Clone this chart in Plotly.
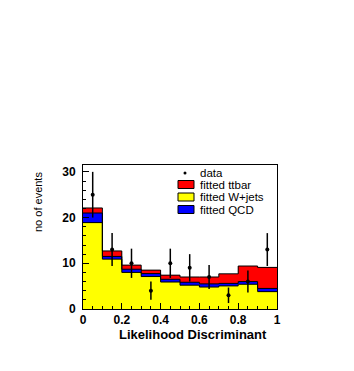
import plotly.graph_objects as go

# bin edges of the likelihood discriminant histogram
edges = [0.0, 0.1, 0.2, 0.3, 0.4, 0.5, 0.6, 0.7, 0.8, 0.9, 1.0]
centers = [0.05, 0.15, 0.25, 0.35, 0.45, 0.55, 0.65, 0.75, 0.85, 0.95]

# fitted components (stacked: W+jets bottom, QCD, ttbar on top)
wjets = [18.9, 10.9, 8.0, 7.1, 5.9, 5.2, 4.8, 5.05, 5.4, 3.8]
qcd = [2.1, 0.6, 0.7, 0.65, 0.6, 0.65, 0.7, 0.55, 0.6, 0.7]
ttbar = [1.1, 1.2, 0.9, 0.75, 0.9, 1.15, 1.5, 2.1, 3.4, 4.6]

# observed data and errors
data = [25, 13, 10, 4, 10, 9, 7, 3, 6, 13]
data_err = [5.0, 3.6, 3.2, 2.0, 3.2, 3.0, 2.6, 1.7, 2.4, 3.6]

# page body has an 8px margin, so the figure is drawn 8px smaller
W, H = 346, 363
L, R, T, B = 75, 77, 157, 62
X0, Y0, PW, PH = 83, 309, 194, 144   # plot box in window pixels


def px(x):
    return (x - X0) / PW


def py(y):
    return (Y0 - y) / PH


fig = go.Figure()

comps = [("fitted W+jets", wjets, "#ffff00"),
         ("fitted QCD", qcd, "#0000ff"),
         ("fitted ttbar", ttbar, "#ff0000")]
for name, vals, col in comps:
    fig.add_trace(go.Bar(x=centers, y=vals, width=0.1, name=name,
                         marker=dict(color=col, line=dict(width=0)),
                         showlegend=False))

# step outlines on top of each stacked level
level = [0.0] * len(centers)
for name, vals, col in comps:
    level = [a + b for a, b in zip(level, vals)]
    fig.add_trace(go.Scatter(x=edges, y=level + [level[-1]], mode="lines",
                             line=dict(color="black", width=1, shape="hv"),
                             showlegend=False, hoverinfo="skip"))

fig.add_trace(go.Scatter(x=centers, y=data, mode="markers", name="data",
                         marker=dict(color="black", size=4),
                         error_y=dict(type="data", array=data_err, color="black",
                                      thickness=1.5, width=0),
                         showlegend=False))

font = "Liberation Sans, Arial, sans-serif"

fig.update_layout(
    width=W, height=H, barmode="stack",
    margin=dict(l=L, r=R, t=T, b=B, pad=0),
    paper_bgcolor="white", plot_bgcolor="white",
    font=dict(family=font, color="black"),
    xaxis=dict(range=[0, 1], showline=True, mirror=True, linecolor="black",
               linewidth=1, ticks="inside", ticklen=6, dtick=0.2, tick0=0,
               tickcolor="black", showgrid=False, zeroline=False,
               tickfont=dict(size=12, weight="bold"), tickformat="~g",
               ticklabelstandoff=0,
               minor=dict(ticks="inside", ticklen=3, dtick=0.05, tickcolor="black")),
    yaxis=dict(range=[0, 31.5], showline=True, mirror=True, linecolor="black",
               linewidth=1, ticks="inside", ticklen=6, dtick=10, tick0=0,
               tickcolor="black", showgrid=False, zeroline=False,
               tickfont=dict(size=12, weight="bold"), ticklabelstandoff=4,
               minor=dict(ticks="inside", ticklen=3, dtick=2, tickcolor="black")),
)

# axis titles
fig.add_annotation(text="Likelihood Discriminant", xref="paper", yref="paper",
                   x=px(269), y=py(334), xanchor="right", yanchor="middle",
                   showarrow=False, font=dict(size=13, weight="bold"))
fig.add_annotation(text="no of events", xref="paper", yref="paper",
                   x=px(38), y=py(170), xanchor="center", yanchor="top",
                   textangle=-90, showarrow=False, font=dict(size=11))

# legend
fig.add_trace(go.Scatter(x=[px(185)], y=[py(173)], xaxis="x2", yaxis="y2",
                         mode="markers", marker=dict(color="black", size=3),
                         showlegend=False, hoverinfo="skip"))
fig.update_layout(
    xaxis2=dict(overlaying="x", range=[0, 1], visible=False),
    yaxis2=dict(overlaying="y", range=[0, 1], visible=False),
)
labels = [("data", 172.5, None),
          ("fitted ttbar", 184.5, "#ff0000"),
          ("fitted W+jets", 197, "#ffff00"),
          ("fitted QCD", 209.5, "#0000ff")]
for txt, yc, col in labels:
    if col:
        fig.add_shape(type="rect", xref="paper", yref="paper",
                      x0=px(178), x1=px(194), y0=py(yc + 4), y1=py(yc - 4),
                      fillcolor=col, line=dict(color="black", width=1))
    fig.add_annotation(text=txt, xref="paper", yref="paper", x=px(198), y=py(yc),
                       xanchor="left", yanchor="middle", showarrow=False,
                       font=dict(size=11.5))

fig.write_html("out.html")
